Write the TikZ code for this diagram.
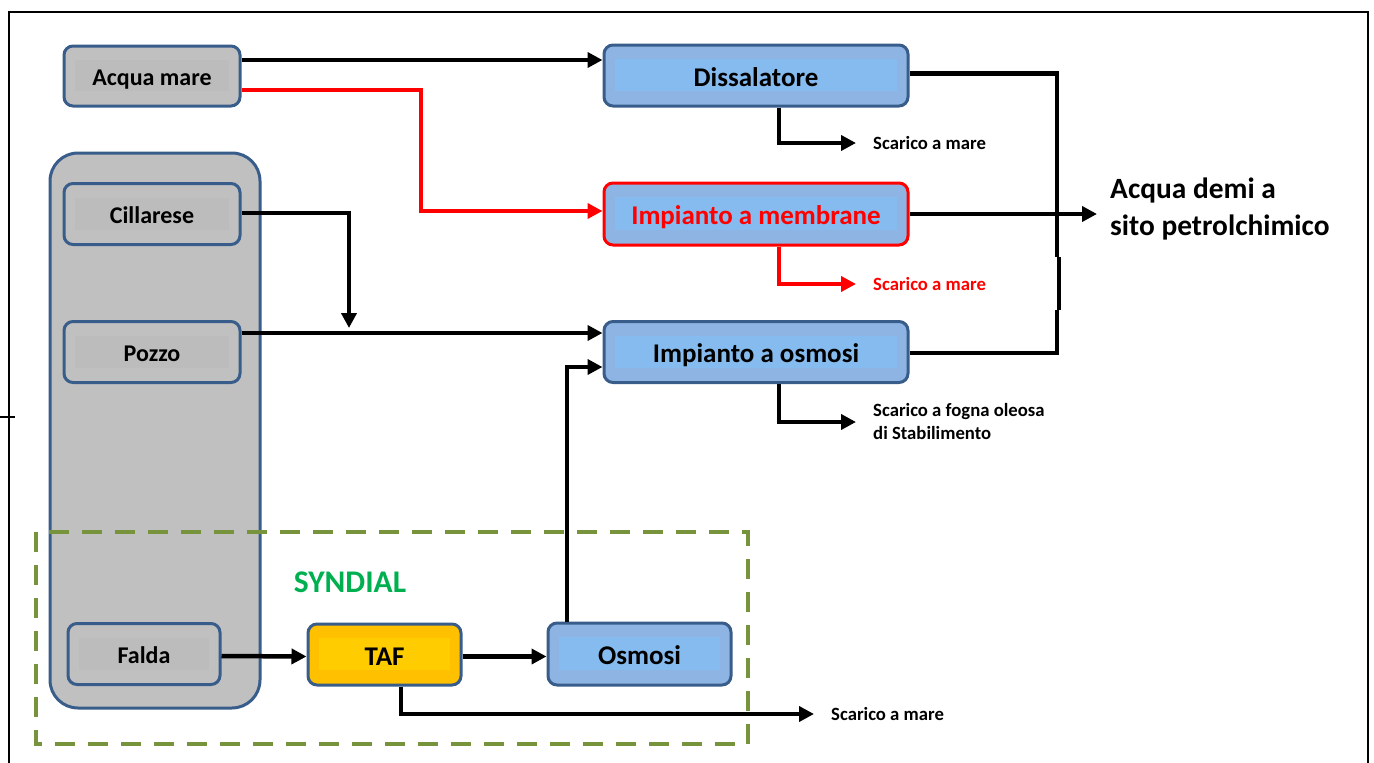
\documentclass[tikz,border=0pt]{standalone}
\usepackage{fontspec}
\setmainfont{Carlito}
\usetikzlibrary{arrows.meta}

\definecolor{boxline}{RGB}{56,93,138}
\definecolor{boxgray}{RGB}{192,192,192}
\definecolor{bandgray}{RGB}{188,188,188}
\definecolor{boxblue}{RGB}{142,180,227}
\definecolor{bandblue}{RGB}{133,187,238}
\definecolor{boxyellow}{RGB}{255,192,0}
\definecolor{bandyellow}{RGB}{255,204,0}
\definecolor{syndialline}{RGB}{119,147,60}
\definecolor{syndialtext}{RGB}{0,176,80}

\begin{document}
\begin{tikzpicture}[x=1pt,y=-1pt,
  band/.style={path picture={\fill[#1, sharp corners] ([xshift=11pt,yshift=-14pt]path picture bounding box.north west) rectangle ([xshift=-11pt,yshift=15pt]path picture bounding box.south east);}},
  box/.style={draw=boxline, line width=3pt, rounded corners=9pt, inner sep=0pt, text=black, text depth=0pt},
  graybox/.style={box, fill=boxgray, band=bandgray, text height=19pt, font=\bfseries\fontsize{24}{28}\selectfont},
  bluebox/.style={box, fill=boxblue, band=bandblue, text height=21pt, font=\bfseries\fontsize{27}{30}\selectfont},
  outlabel/.style={anchor=west, inner sep=0pt, align=left, font=\bfseries\fontsize{18.7}{23}\selectfont},
  flow/.style={line width=4.5pt, -{Triangle[length=15pt,width=15pt]}},
  pipe/.style={line width=4.5pt}
]
\useasboundingbox (0,0) rectangle (1374,763);

% frame
\draw[line width=2pt] (9,770) -- (9,12) -- (1368,12) -- (1368,770);
\draw[line width=1.5pt] (0,417) -- (15,417);

% wells group and SYNDIAL area
\path (155,430.5) node[box, fill=boxgray, rounded corners=28pt, minimum width=210pt, minimum height=555pt](sources) {};
\draw[syndialline, line width=4pt, dash pattern=on 20pt off 13pt] (36,532) rectangle (748,744);
\path (350,582) node[font=\bfseries\fontsize{31.5}{34}\selectfont, text=syndialtext](syndial) {SYNDIAL};

% sources
\path (152,76) node[graybox, minimum width=176pt, minimum height=60pt](acqua) {Acqua mare};
\path (152,214) node[graybox, minimum width=176pt, minimum height=61pt](cillarese) {Cillarese};
\path (152,352) node[graybox, minimum width=176pt, minimum height=61pt](pozzo) {Pozzo};
\path (144,654) node[graybox, minimum width=152pt, minimum height=61pt](falda) {Falda};

% plants
\path (756,75.5) node[bluebox, minimum width=304pt, minimum height=61pt](dissal) {Dissalatore};
\path (756,214) node[bluebox, draw=red, text=red, minimum width=304pt, minimum height=62pt](membrane) {Impianto a membrane};
\path (756,352) node[bluebox, minimum width=304pt, minimum height=61pt](impos) {Impianto a osmosi};
\path (384.5,654.5) node[bluebox, fill=boxyellow, band=bandyellow, minimum width=153pt, minimum height=61pt](taf) {TAF};
\path (639.5,654) node[bluebox, minimum width=183pt, minimum height=62pt](osmosi) {Osmosi};

% outlets
\path (873,143) node[outlabel](scarico-dissal) {Scarico a mare};
\path (873,284) node[outlabel, text=red](scarico-membrane) {Scarico a mare};
\path (873,422) node[outlabel](scarico-impos) {Scarico a fogna oleosa\\di Stabilimento};
\path (831,714) node[outlabel](scarico-taf) {Scarico a mare};
\path (1110,209) node[outlabel, font=\bfseries\fontsize{29.4}{37}\selectfont](demi) {Acqua demi a\\sito petrolchimico};

% flows
\draw[flow] ([yshift=16pt]acqua.east) -- ([yshift=16pt]acqua.east -| dissal.west);
\draw[flow, red] ([yshift=-14pt]acqua.east) -- (421,90) |- ([yshift=3pt]membrane.west);
\draw[flow] ([yshift=1pt]cillarese.east) -| (349,328);
\draw[flow] ([yshift=19pt]pozzo.east) -- ([yshift=19pt]pozzo.east -| impos.west);
\draw[flow] ([xshift=-72.5pt]osmosi.north) |- ([yshift=-15pt]impos.west);
\draw[flow] ([yshift=-2pt]falda.east) -- ([yshift=-2pt]taf.west);
\draw[flow] ([yshift=-2pt]taf.east) -- ([yshift=-2pt]taf.east -| osmosi.west);

% collector to petrochemical site
\draw[pipe] ([yshift=2pt]dissal.east) -| (1057,257);
\draw[pipe] ([yshift=-1pt]impos.east) -| (1057,310);
\draw[line width=4pt] (1059,257) -- (1059,310);
\draw[flow] (membrane.east) -- ([xshift=-13pt]membrane.east -| demi.west);

% discharges
\draw[flow] ([xshift=23pt]dissal.south) |- ([xshift=-17pt]scarico-dissal.west);
\draw[flow, red] ([xshift=23pt]membrane.south) |- ([xshift=-17pt]scarico-membrane.west);
\draw[flow] ([xshift=23pt]impos.south) |- ([xshift=-17pt]scarico-impos.west);
\draw[flow] ([xshift=16.5pt]taf.south) |- ([xshift=-17pt]scarico-taf.west);
\end{tikzpicture}
\end{document}
